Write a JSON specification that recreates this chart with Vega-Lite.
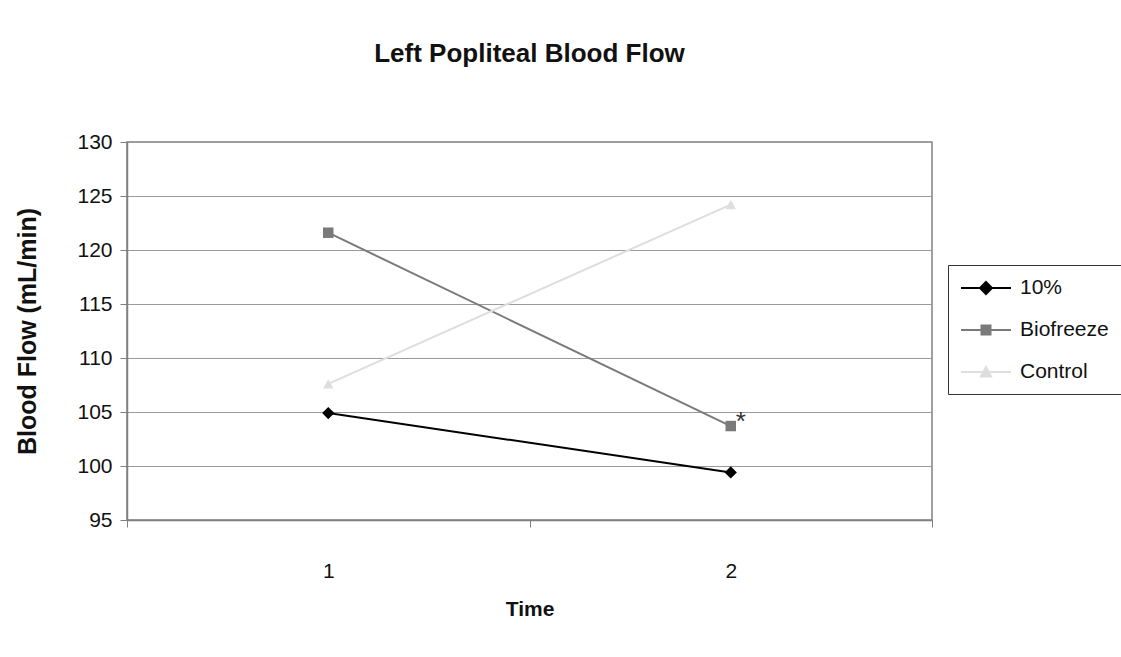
{
  "$schema": "https://vega.github.io/schema/vega-lite/v6.json",
  "width": 805,
  "height": 378,
  "autosize": {"type": "none"},
  "padding": {"left": 127, "top": 142, "right": 189, "bottom": 137},
  "background": "white",
  "config": {
    "font": "Liberation Sans",
    "view": {"stroke": "#808080", "strokeWidth": 1.5}
  },
  "title": {
    "text": "Left Popliteal Blood Flow",
    "fontSize": 26,
    "font": "Liberation Sans Narrow, Liberation Sans",
    "fontWeight": "bold",
    "color": "#111",
    "anchor": "middle",
    "offset": 64
  },
  "data": {
    "values": [
      {"Time": "1", "series": "10%", "value": 104.9, "note": ""},
      {"Time": "2", "series": "10%", "value": 99.4, "note": ""},
      {"Time": "1", "series": "Biofreeze", "value": 121.6, "note": ""},
      {"Time": "2", "series": "Biofreeze", "value": 103.7, "note": "*"},
      {"Time": "1", "series": "Control", "value": 107.6, "note": ""},
      {"Time": "2", "series": "Control", "value": 124.2, "note": ""}
    ]
  },
  "encoding": {
    "x": {
      "field": "Time",
      "type": "ordinal",
      "bandPosition": 0.5,
      "scale": {"type": "band", "paddingInner": 0, "paddingOuter": 0},
      "axis": {
        "title": "Time",
        "titleFontSize": 21,
        "titleFontWeight": "bold",
        "titleColor": "#111",
        "titlePadding": 17,
        "labelAngle": 0,
        "labelFontSize": 21,
        "labelColor": "#111",
        "labelPadding": 33,
        "tickBand": "extent",
        "tickSize": 7,
        "tickColor": "#808080",
        "domainColor": "#808080",
        "domainWidth": 1.5,
        "grid": false
      }
    },
    "y": {
      "field": "value",
      "type": "quantitative",
      "scale": {"domain": [95, 130], "nice": false, "zero": false},
      "axis": {
        "title": "Blood Flow (mL/min)",
        "titleFontSize": 25,
        "titleFontWeight": "bold",
        "titleColor": "#111",
        "titlePadding": 36,
        "values": [95, 100, 105, 110, 115, 120, 125, 130],
        "labelFontSize": 21,
        "labelColor": "#111",
        "labelPadding": 8,
        "tickSize": 7,
        "tickColor": "#808080",
        "domainColor": "#808080",
        "domainWidth": 1.5,
        "grid": true,
        "gridColor": "#9a9a9a",
        "gridWidth": 1
      }
    },
    "color": {
      "field": "series",
      "type": "nominal",
      "scale": {"domain": ["10%", "Biofreeze", "Control"], "range": ["#000000", "#7a7a7a", "#dedede"]},
      "legend": {
        "title": null,
        "orient": "none",
        "legendX": 821,
        "legendY": 123,
        "labelFontSize": 21,
        "labelColor": "#111",
        "labelOffset": 38,
        "rowPadding": 21,
        "padding": 12,
        "strokeColor": "#333",
        "fillColor": "white",
        "symbolOpacity": 1,
        "symbolSize": 400,
        "symbolStrokeWidth": 2,
        "encode": {
          "symbols": {
            "update": {
              "shape": {"scale": "shape", "field": "value"},
              "size": {"value": 400},
              "fill": {"scale": "color", "field": "value"},
              "stroke": {"scale": "color", "field": "value"},
              "strokeWidth": {"value": 2},
              "opacity": {"value": 1}
            }
          }
        }
      }
    }
  },
  "layer": [
    {
      "mark": {"type": "line", "strokeWidth": 2}
    },
    {
      "transform": [{"filter": "datum.series === '10%'"}],
      "mark": {"type": "point", "shape": "diamond", "filled": true, "size": 150, "opacity": 1}
    },
    {
      "transform": [{"filter": "datum.series === 'Biofreeze'"}],
      "mark": {"type": "point", "shape": "square", "filled": true, "size": 110, "opacity": 1}
    },
    {
      "transform": [{"filter": "datum.series === 'Control'"}],
      "mark": {"type": "point", "shape": "triangle-up", "filled": true, "size": 110, "opacity": 1}
    },
    {
      "transform": [{"filter": "datum.note !== ''"}],
      "mark": {"type": "text", "fontSize": 26, "dx": 10, "dy": -4, "color": "#333"},
      "encoding": {"text": {"field": "note"}, "color": {"value": "#333"}}
    },
    {
      "mark": {"type": "point", "filled": true, "opacity": 0, "size": 100},
      "encoding": {
        "shape": {
          "field": "series",
          "type": "nominal",
          "scale": {
            "domain": ["10%", "Biofreeze", "Control"],
            "range": [
              "M-1,0H4M1.5,-0.6L2.1,0L1.5,0.6L0.9,0Z",
              "M-1,0H4M1.05,-0.45H1.95V0.45H1.05Z",
              "M-1,0H4M1.5,-0.5L2,0.45H1Z"
            ]
          },
          "legend": null
        }
      }
    }
  ]
}
